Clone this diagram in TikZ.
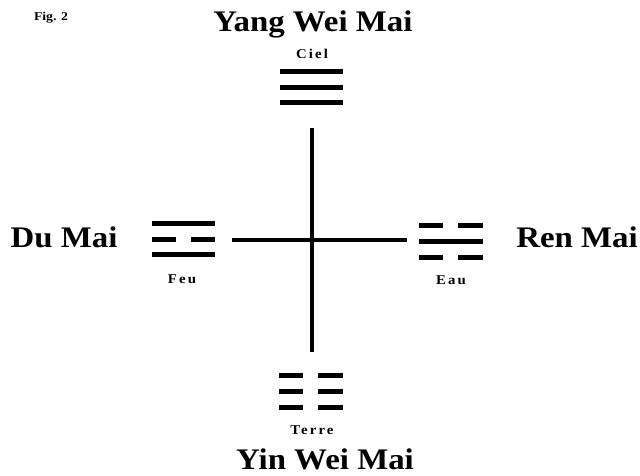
\documentclass[tikz,border=0pt]{standalone}
\usepackage{fontspec}
\setmainfont{Liberation Serif}
\newfontfamily\wideserif[FakeStretch=1.1]{Liberation Serif}
\newfontfamily\spfont[FakeStretch=1.1,LetterSpace=16]{Liberation Serif}
\newfontfamily\figfont[FakeStretch=1.15]{Liberation Serif}
\begin{document}
\begin{tikzpicture}[x=1bp,y=-1bp,
  bar/.style={line width=5bp},
  axis/.style={line width=4.5bp},
  big/.style={font=\fontsize{30}{30}\wideserif\bfseries, inner sep=0, anchor=base},
  small/.style={font=\fontsize{13.5}{13.5}\spfont\bfseries, inner sep=0, anchor=base},
  figlab/.style={font=\fontsize{12}{12}\figfont\bfseries, inner sep=0, anchor=base}]
\useasboundingbox (0,0) rectangle (640,476);
% labels
\node[figlab] (fig) at (51,21) {Fig. 2};
\node[big] (yang) at (313,32) {Yang Wei Mai};
\node[big] (yin) at (325,469) {Yin Wei Mai};
\node[big] (du) at (64,248) {Du Mai};
\node[big, anchor=base east] (ren) at (638,248) {Ren Mai};
\node[small] (ciel) at (312,59) {Ciel};
\node[small] (feu) at (182,284) {Feu};
\node[small] (eau) at (451,285) {Eau};
\node[small] (terre) at (312,434) {Terre};
% cross
\coordinate (ctop) at (312,128);
\coordinate (cbot) at (312,352);
\coordinate (cleft) at (232,240);
\coordinate (cright) at (407,240);
\draw[axis] (ctop) -- (cbot);
\draw[axis] (cleft) -- (cright);
% Ciel (three solid)
\foreach \y in {72,88,103} \draw[bar] (280,\y) -- (343,\y);
% Feu (solid, broken, solid)
\draw[bar] (152,224) -- (215,224);
\draw[bar] (152,240) -- (176,240);
\draw[bar] (191,240) -- (215,240);
\draw[bar] (152,255) -- (215,255);
% Eau (broken, solid, broken)
\draw[bar] (419,226) -- (443,226);
\draw[bar] (458,226) -- (483,226);
\draw[bar] (419,242) -- (483,242);
\draw[bar] (419,258) -- (443,258);
\draw[bar] (458,258) -- (483,258);
% Terre (three broken)
\foreach \y in {375,391,407} {
  \draw[bar] (279,\y) -- (303,\y);
  \draw[bar] (318,\y) -- (343,\y);
}
\end{tikzpicture}
\end{document}
